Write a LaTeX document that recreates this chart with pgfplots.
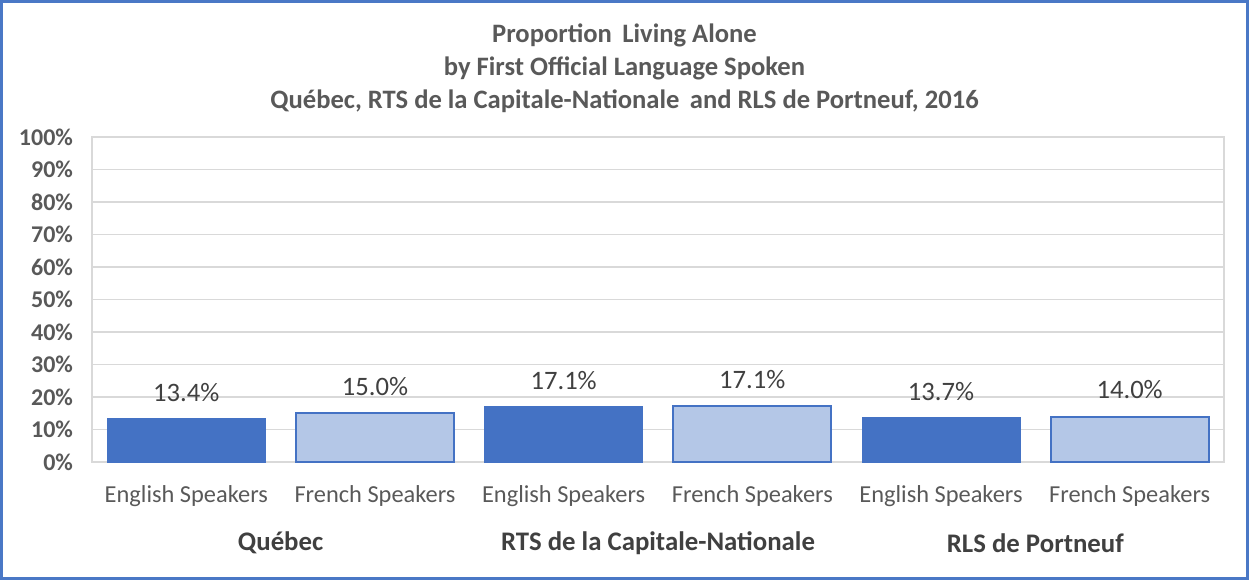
\documentclass[border=0pt]{standalone}
\usepackage{pgfplots}
\pgfplotsset{compat=1.18}
\usepackage{fontspec}
\setmainfont{Carlito}

\definecolor{barDark}{HTML}{4472C4}
\definecolor{barLight}{HTML}{B4C7E7}
\definecolor{gridGray}{HTML}{D9D9D9}
\definecolor{txtGray}{HTML}{595959}
\definecolor{txtDark}{HTML}{404040}
\definecolor{frameBlue}{HTML}{4A78C6}

\begin{document}
\begin{tikzpicture}
\useasboundingbox (0,0) rectangle (624.5pt,290pt);
\draw[frameBlue, line width=1.3pt] (0.7pt,0.7pt) rectangle (623.8pt,289.3pt);

% titre
\node[align=center, text=txtGray, font=\fontsize{13.3}{16.5}\selectfont\bfseries]
  at (312.25pt,256pt) {Proportion\, Living Alone\\by First Official Language Spoken\\Québec, RTS de la Capitale-Nationale\, and RLS de Portneuf, 2016};

\begin{axis}[
    at={(46pt,59pt)}, anchor=south west,
    scale only axis, width=566pt, height=162.5pt,
    ybar=0pt, bar width=79pt,
    xmin=-0.5, xmax=5.5, ymin=0, ymax=100,
    enlarge x limits=false,
    xtick={0,1,2,3,4,5},
    xticklabels={English Speakers, French Speakers, English Speakers, French Speakers, English Speakers, French Speakers},
    ytick={0,10,...,100},
    yticklabel={\pgfmathprintnumber{\tick}\%},
    /pgf/number format/assume math mode=true,
    major tick length=0pt,
    axis line style={draw=gridGray, line width=0.8pt},
    ymajorgrids=true, grid style={gridGray, line width=0.8pt},
    yticklabel style={font=\fontsize{12}{12}\selectfont\bfseries, text=txtGray, xshift=-6pt},
    xticklabel style={font=\fontsize{12.2}{12}\selectfont, text=txtGray, yshift=-8pt},
    nodes near coords={\pgfmathprintnumber[fixed,fixed zerofill,precision=1]{\pgfplotspointmeta}\%},
    every node near coord/.append style={font=\fontsize{13.3}{13}\selectfont, text=txtDark, yshift=5pt},
    clip=false,
]
    % English speakers
    \addplot[draw=barDark, fill=barDark, bar shift=0pt] coordinates {
        (0,13.4) (2,17.1) (4,13.7)
    };
    % French speakers
    \addplot[draw=barDark, line width=1pt, fill=barLight, bar shift=0pt] coordinates {
        (1,15.0) (3,17.1) (5,14.0)
    };
    % regroupement
    \node[font=\fontsize{13.4}{13}\selectfont\bfseries, text=txtDark] at (axis cs:0.5,0) [yshift=-40.5pt] {Québec};
    \node[font=\fontsize{13.4}{13}\selectfont\bfseries, text=txtDark] at (axis cs:2.5,0) [yshift=-40.5pt] {RTS de la Capitale-Nationale};
    \node[font=\fontsize{13.4}{13}\selectfont\bfseries, text=txtDark] at (axis cs:4.5,0) [yshift=-40.5pt] {RLS de Portneuf};
\end{axis}
\end{tikzpicture}
\end{document}
